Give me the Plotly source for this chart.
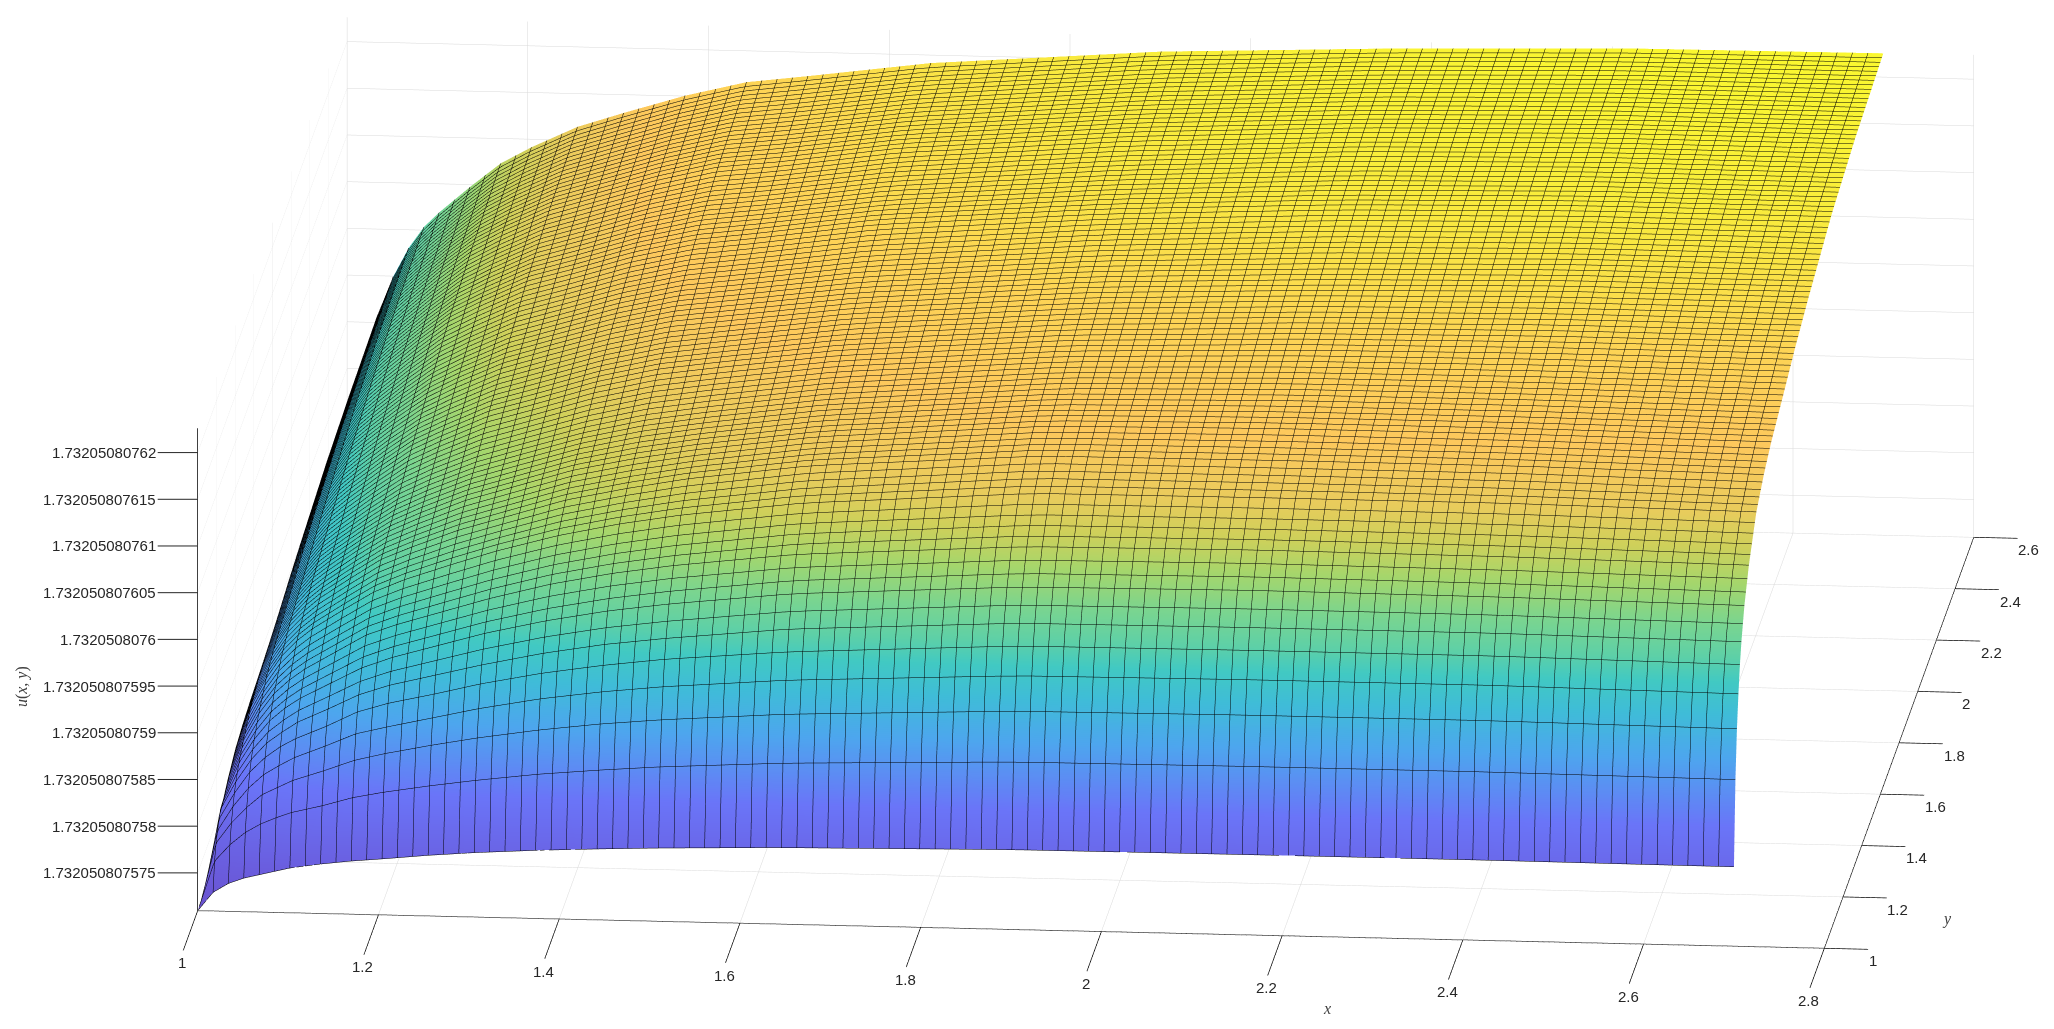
import plotly.graph_objects as go

# Grid positions (hand-read, denser where the surface bends sharply)
x_vals = [1, 1.017, 1.034, 1.051, 1.068, 1.085, 1.102, 1.136, 1.17, 1.204, 1.255, 1.306, 1.374, 1.442, 1.51,
          1.646, 1.901, 2.156, 2.428, 2.7]
y_vals = [1, 1.016, 1.032, 1.048, 1.064, 1.08, 1.112, 1.16, 1.24, 1.32, 1.4, 1.52, 1.65, 1.8, 2.05, 2.3, 2.6]

# u(x,y), in units of 1e-12 above the axis floor
z_rel = [
    [0, 2.0, 3.0, 3.6, 4.0, 4.4, 4.8, 5.3, 5.7, 6.0, 6.5, 6.9, 7.3, 7.6, 7.85, 8.2, 8.55, 8.6, 8.6, 8.5],
    [0, 4.9, 6.7, 8.05, 9.0, 9.7, 10.3, 11.1, 12.05, 12.7, 13.5, 14.2, 15.0, 15.6, 16.1, 16.8, 17.5, 17.6, 17.6, 17.4],
    [0, 6.4, 8.6, 10.3, 11.7, 12.5, 13.3, 14.4, 15.6, 16.4, 17.4, 18.3, 19.3, 20.1, 20.7, 21.6, 22.5, 22.65, 22.65, 22.4],
    [0, 7.3, 9.9, 11.9, 13.4, 14.4, 15.3, 16.6, 18.0, 18.8, 19.9, 21.0, 22.2, 23.1, 23.8, 24.8, 25.85, 26.0, 26.0, 25.7],
    [0, 8.1, 10.9, 13.2, 14.8, 16.0, 16.9, 18.3, 19.9, 20.9, 22.0, 23.2, 24.5, 25.5, 26.3, 27.4, 28.6, 28.7, 28.7, 28.4],
    [0, 8.7, 11.7, 14.1, 15.9, 17.1, 18.2, 19.7, 21.3, 22.4, 23.6, 24.8, 26.2, 27.3, 28.1, 29.4, 30.6, 30.7, 30.7, 30.4],
    [0, 8.9, 12.8, 15.4, 17.4, 18.8, 19.9, 21.6, 23.3, 24.5, 25.9, 27.3, 28.8, 30.0, 30.9, 32.3, 33.6, 33.8, 33.7, 33.4],
    [0, 9.7, 13.9, 16.8, 19.0, 20.5, 21.7, 23.6, 25.5, 26.7, 28.2, 29.7, 31.4, 32.7, 33.7, 35.2, 36.6, 36.8, 36.7, 36.4],
    [0, 10.7, 15.3, 18.4, 20.8, 22.5, 23.8, 25.9, 27.9, 29.3, 31.0, 32.6, 34.4, 35.8, 36.9, 38.5, 40.1, 40.2, 40.2, 39.9],
    [0, 11.2, 16.0, 19.3, 21.8, 23.5, 24.9, 27.1, 29.2, 30.6, 32.5, 34.0, 36.0, 37.4, 38.6, 40.3, 41.9, 42.0, 42.0, 41.7],
    [0, 11.5, 16.4, 19.8, 22.4, 24.3, 25.6, 27.9, 30.0, 31.5, 33.5, 35.0, 37.0, 38.4, 39.5, 41.2, 42.9, 43.2, 43.2, 43.0],
    [0, 11.8, 16.9, 20.5, 23.1, 25.1, 26.4, 28.8, 31.0, 32.6, 34.6, 36.1, 38.0, 39.5, 40.5, 42.2, 43.9, 44.4, 44.5, 44.4],
    [0, 12.1, 17.6, 21.3, 24.0, 26.0, 27.4, 29.9, 32.2, 33.8, 36.0, 37.4, 39.4, 40.9, 41.8, 43.4, 45.0, 45.7, 46.0, 46.0],
    [0, 12.4, 18.2, 22.0, 24.8, 27.0, 28.4, 31.0, 33.3, 35.0, 37.2, 38.7, 40.6, 42.1, 42.9, 44.5, 46.2, 47.0, 47.5, 47.5],
    [0, 12.6, 19.1, 23.0, 26.0, 28.2, 29.7, 32.4, 34.9, 36.6, 38.9, 40.3, 42.3, 43.8, 44.6, 46.4, 48.1, 49.1, 49.6, 49.6],
    [0, 12.8, 19.6, 23.6, 26.7, 29.0, 30.5, 33.3, 35.8, 37.6, 39.9, 41.4, 43.4, 45.0, 45.7, 47.5, 49.3, 50.3, 50.8, 50.8],
    [0, 12.9, 19.9, 24.0, 27.1, 29.4, 31.0, 33.8, 36.4, 38.2, 40.5, 42.1, 44.1, 45.7, 46.5, 48.2, 50.0, 50.9, 51.5, 51.6],
]

x_ticks = [1, 1.2, 1.4, 1.6, 1.8, 2, 2.2, 2.4, 2.6, 2.8]
x_labels = ["1", "1.2", "1.4", "1.6", "1.8", "2", "2.2", "2.4", "2.6", "2.8"]
y_ticks = [1, 1.2, 1.4, 1.6, 1.8, 2, 2.2, 2.4, 2.6]
y_labels = ["1", "1.2", "1.4", "1.6", "1.8", "2", "2.2", "2.4", "2.6"]
z_ticks = [4.05, 9.05, 14.05, 19.05, 24.05, 29.05, 34.05, 39.05, 44.05, 49.05]
z_labels = ["1.732050807575", "1.73205080758", "1.732050807585", "1.73205080759",
            "1.732050807595", "1.7320508076", "1.732050807605", "1.73205080761",
            "1.732050807615", "1.73205080762"]
z_top = 51.65

color_levels = [0, 5, 12.5, 19.5, 23.6, 26.7, 29, 32, 35, 37.6, 40, 43, 46, 49, 51.65]
color_values = ["#6a52cf", "#6a5fe0", "#6a75f8", "#4da6ee", "#3fbcd8", "#41c9c3", "#5dd0a8",
                "#7bd58f", "#a5d66c", "#cfd05a", "#e8cc5c", "#fdc85c", "#fdd455", "#f9e840", "#faf730"]
colorscale = [[lv / z_top, c] for lv, c in zip(color_levels, color_values)]

INK = "#000000"
GRID = "#d9d9d9"
tick_font = dict(family="Liberation Sans, Arial, sans-serif", size=15, color="#262626")
title_font = dict(family="Liberation Serif, serif", size=16, color="#404040")


def axis(rng, vals, labels, ticklen, show_ticks=True):
    return dict(
        title=dict(text=""),
        range=rng, autorange=False,
        tickmode="array", tickvals=vals, ticktext=labels, tickangle=0,
        showticklabels=False,
        ticks="outside" if show_ticks else "", ticklen=ticklen, tickcolor=INK, tickwidth=1.5,
        showline=True, linecolor=INK, linewidth=1.5,
        showgrid=True, gridcolor=GRID, gridwidth=1,
        showbackground=False, zeroline=False, showspikes=False,
    )


fig = go.Figure(go.Surface(
    x=x_vals, y=y_vals, z=z_rel,
    cmin=0, cmax=z_top, colorscale=colorscale, showscale=False,
    lighting=dict(ambient=1, diffuse=0, specular=0, roughness=1, fresnel=0),
    hoverinfo="skip",
    contours=dict(
        x=dict(show=True, start=1, end=2.7, size=0.017, color="#000000", width=1.5, highlight=False),
        y=dict(show=True, start=1, end=2.6, size=0.016, color="#000000", width=1.5, highlight=False),
        z=dict(show=False, highlight=False),
    ),
))

# Tick labels are anchored to the axes by data position, where MATLAB's label offsets need them
annotations = [
    dict(x=1, y=1, z=v, text=t, showarrow=True, ax=-40, ay=0, arrowhead=0, arrowwidth=1, arrowcolor="#262626",
         standoff=0, xanchor="right", font=tick_font)
    for v, t in zip(z_ticks, z_labels)
]
annotations += [
    dict(x=v, y=1, z=0, text=t, showarrow=False, xshift=-15.5, yshift=-52, font=tick_font)
    for v, t in zip(x_ticks, x_labels)
]
annotations += [
    dict(x=2.8, y=v, z=0, text=t, showarrow=False, xshift=42.5, yshift=-12.4, xanchor="left", font=tick_font)
    for v, t in zip(y_ticks, y_labels)
]
annotations += [
    dict(x=2, y=1, z=0, text="<i>x</i>", showarrow=False, xshift=226, yshift=-77, font=title_font),
    dict(x=2.8, y=1, z=0, text="<i>y</i>", showarrow=False, xshift=123, yshift=29, font=title_font),
    dict(x=1, y=1, z=29.05, text="<i>u</i>(<i>x, y</i>)", showarrow=False, xshift=-175, yshift=-47,
         textangle=-90, font=title_font),
]

fig.update_layout(
    width=2054, height=1029,
    margin=dict(l=0, r=0, t=0, b=0),
    paper_bgcolor="white",
    scene=dict(
        domain=dict(x=[0, 1], y=[0, 1]),
        xaxis=axis([1, 2.8], x_ticks, x_labels, 44),
        yaxis=axis([1, 2.6], y_ticks, y_labels, 158),
        zaxis=axis([0, z_top], z_ticks, z_labels, 0, show_ticks=False),
        annotations=annotations,
        aspectmode="manual",
        aspectratio=dict(x=3.1748, y=3.1811, z=0.96893),
        camera=dict(
            projection=dict(type="orthographic"),
            up=dict(x=0, y=0, z=1),
            center=dict(x=-0.09635, y=-0.02837, z=-0.07467),
            eye=dict(x=0.25697, y=-3.88289, z=0.93401),
        ),
    ),
)

fig.write_html("out.html")
